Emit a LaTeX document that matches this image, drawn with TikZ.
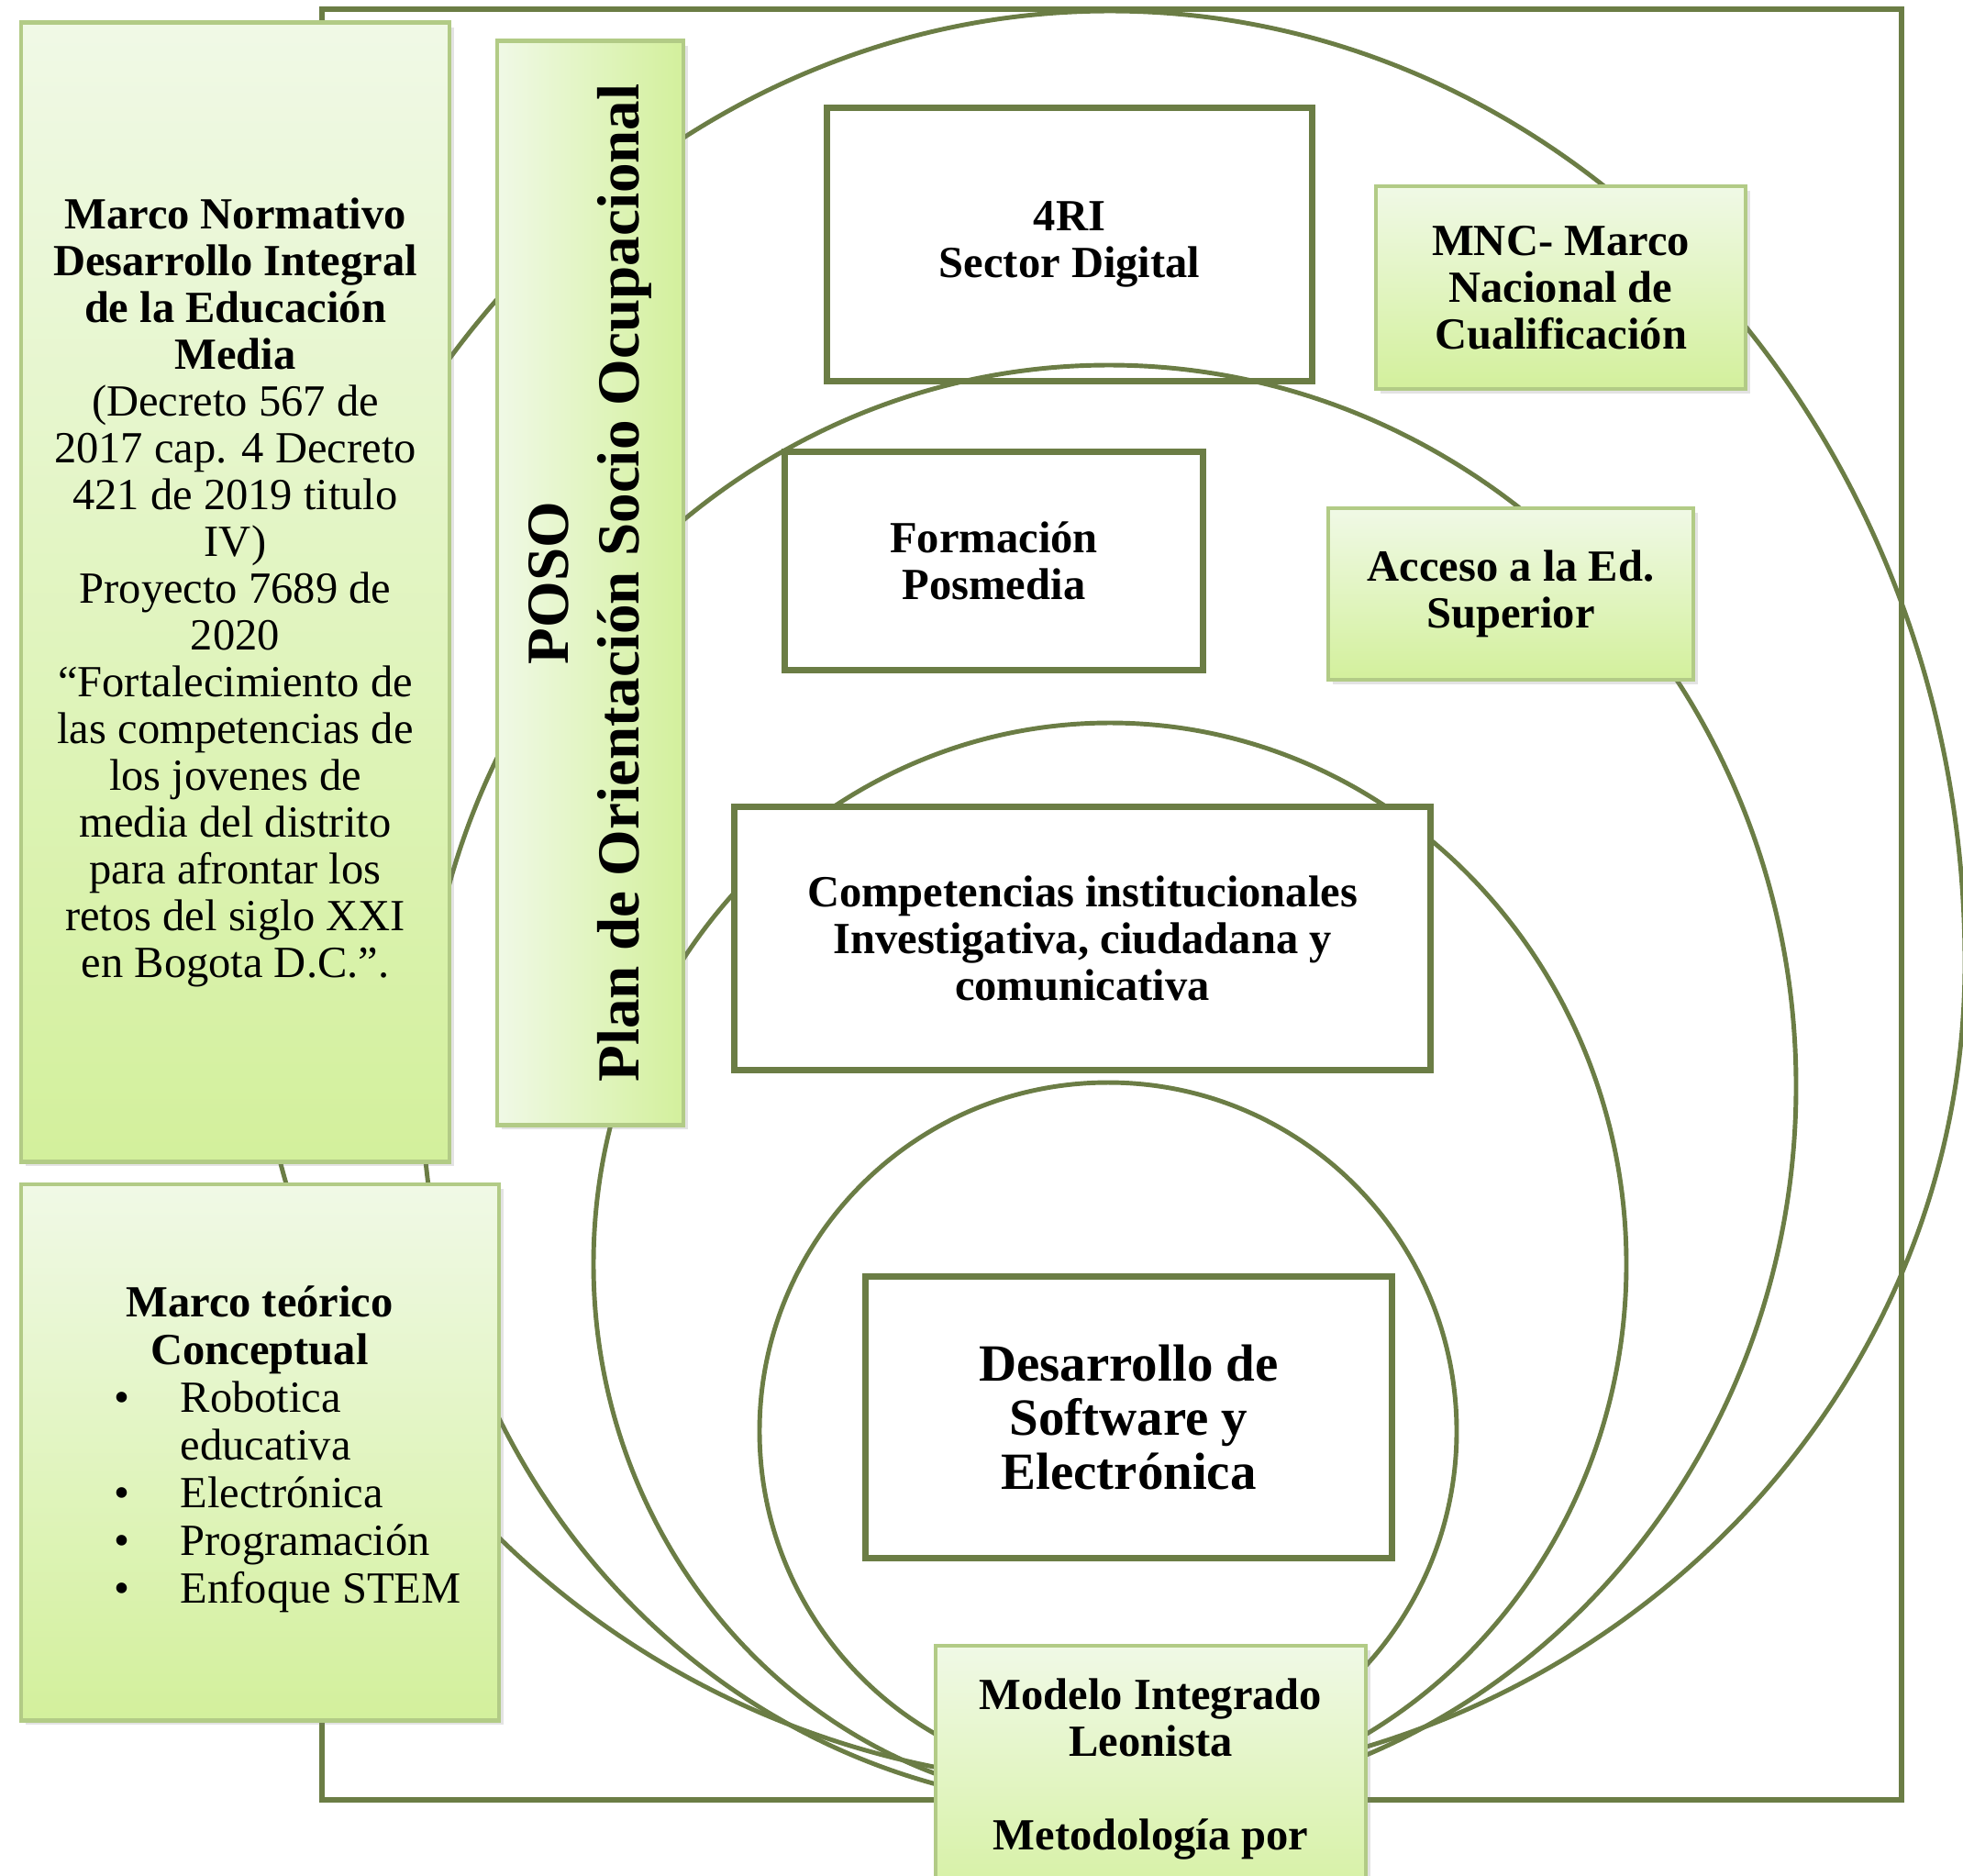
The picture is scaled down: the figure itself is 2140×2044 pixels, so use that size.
\documentclass[tikz,border=0pt]{standalone}
\usepackage{fontspec}
\setmainfont{Liberation Serif}
\usetikzlibrary{shadows}
\definecolor{lineol}{HTML}{6B7D45}
\definecolor{gtop}{HTML}{F0F9E6}
\definecolor{gbot}{HTML}{D3F09C}
\definecolor{gborder}{HTML}{B2CB86}
\newcommand{\fsn}{\fontsize{13.8}{14.5}\selectfont}
\newcommand{\fsm}{\fontsize{13.8}{14.8}\selectfont}
\newcommand{\fsd}{\fontsize{16.2}{16.9}\selectfont}
\newcommand{\fsp}{\fontsize{18.5}{22}\selectfont}
\tikzset{
  frame/.style={draw=lineol, line width=1.8pt},
  ring/.style={draw=lineol, line width=1.4pt},
  whitebox/.style={draw=lineol, line width=2pt, fill=white, inner sep=0pt, align=center, font=\fsn\bfseries},
  greenbox/.style={draw=gborder, line width=1.3pt, top color=gtop, bottom color=gbot, inner sep=0pt, align=center, font=\fsn\bfseries,
    drop shadow={opacity=0.22, shadow xshift=0.05cm, shadow yshift=-0.05cm}},
  greenh/.style={greenbox, left color=gtop, right color=gbot},
  txt/.style={inner sep=0pt, align=center, font=\fsn},
}
\begin{document}
\begin{tikzpicture}[x=0.01cm, y=-0.01cm]
\useasboundingbox (0,0) rectangle (2140,2044);
\fill[white] (0,0) rectangle (2140,2044);
\clip (0,0) rectangle (2140,2044);

% outer frame (its left side only shows above and below the left boxes)
\draw[frame] (351,40) -- (351,10) -- (2073,10) -- (2073,1962) -- (351,1962) -- (351,1860);

% top white box (arc passes over its lower edge)
\node[whitebox, minimum width=5.28cm, minimum height=2.97cm] (ri) at (1166,266.5) {4RI\\Sector Digital};

% nested rings
\draw[ring] (278,1050) arc[start angle=180, end angle=360, x radius=932, y radius=1038]
                       arc[start angle=0, end angle=180, x radius=932, y radius=895];
\draw[ring] (1209,1184) ellipse[x radius=749, y radius=786];
\draw[ring] (1210,1378) ellipse[x radius=563, y radius=590];
\draw[ring] (1208,1560) ellipse[x radius=380, y radius=380];

% left green boxes
\node[greenbox, font=\fsn, minimum width=4.67cm, minimum height=12.41cm] (mn) at (256.5,645.5)
  {\textbf{Marco Normativo}\\\textbf{Desarrollo Integral}\\\textbf{de la Educación}\\\textbf{Media}\\
   (Decreto 567 de\\2017 cap. 4 Decreto\\421 de 2019 titulo\\IV)\\Proyecto 7689 de\\2020\\
   “Fortalecimiento de\\las competencias de\\los jovenes de\\media del distrito\\para afrontar los\\
   retos del siglo XXI\\en Bogota D.C.”.};

\node[greenh, minimum width=2.03cm, minimum height=11.81cm] (poso) at (643.5,635.5) {};
\node[txt, font=\fsp\bfseries, rotate=90] (posot) at (poso.center) {POSO\\Plan de Orientación Socio Ocupacional};

\node[greenbox, minimum width=5.21cm, minimum height=5.84cm] (mt) at (283.5,1583) {};
\node[txt, font=\fsm\bfseries] (mtt) at (283,1450) {Marco teórico\\Conceptual};
\node[txt, anchor=west, font=\fsm] (mtl) at (124,1633)
  {\begin{tabular}{@{}p{0.72cm}@{}l@{}}\textbullet & Robotica\\ & educativa\\ \textbullet & Electrónica\\ \textbullet & Programación\\ \textbullet & Enfoque STEM\end{tabular}};

% right green boxes
\node[greenbox, minimum width=4.03cm, minimum height=2.21cm] (mnc) at (1701.5,313.5) {MNC- Marco\\Nacional de\\Cualificación};
\node[greenbox, minimum width=3.98cm, minimum height=1.87cm] (acc) at (1647,647.5) {Acceso a la Ed.\\Superior};

% white boxes
\node[whitebox, minimum width=4.55cm, minimum height=2.37cm] (fp) at (1083.5,611.5) {Formación\\Posmedia};
\node[whitebox, minimum width=7.58cm, minimum height=2.86cm] (ci) at (1180,1023) {Competencias institucionales\\Investigativa, ciudadana y\\comunicativa};
\node[whitebox, font=\fsd\bfseries, minimum width=5.73cm, minimum height=3.06cm] (ds) at (1230.5,1545) {Desarrollo de\\Software y\\Electrónica};

% bottom green box
\node[greenbox, minimum width=4.69cm, minimum height=3.06cm] (ml) at (1254.5,1947) {};
\node[txt, font=\fsn\bfseries] (mlt) at (1254.5,1928) {Modelo Integrado\\Leonista\\\mbox{}\\Metodología por};
\end{tikzpicture}
\end{document}
